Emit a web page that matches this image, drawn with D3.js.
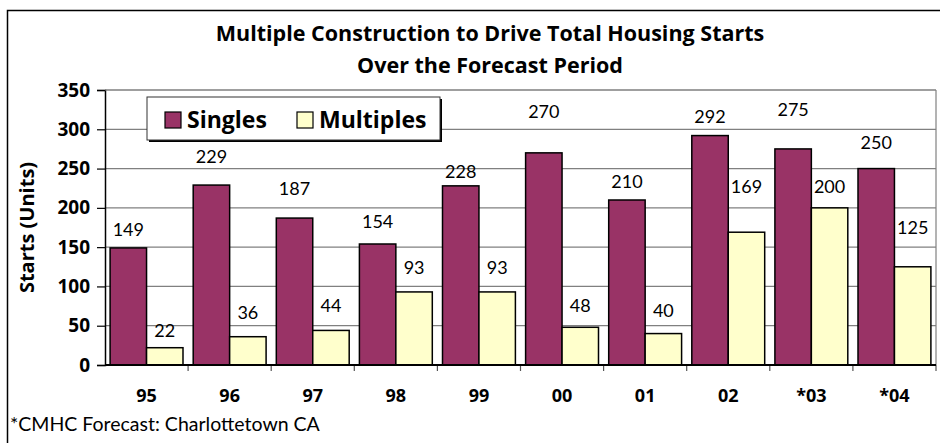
<!DOCTYPE html>
<html>
<head>
<meta charset="utf-8">
<script src="https://cdn.jsdelivr.net/npm/d3@7"></script>
<style>
  body { margin: 0; background: #fff; }
  svg { display: block; font-family: Lato, "Open Sans", sans-serif; }
  .bold { font-family: "Open Sans", sans-serif; font-weight: bold; }
</style>
</head>
<body>
<div id="chart"></div>
<script>
// data
const categories = ["95", "96", "97", "98", "99", "00", "01", "02", "*03", "*04"];
const seriesNames = ["Singles", "Multiples"];
const singles = [149, 229, 187, 154, 228, 270, 210, 292, 275, 250];
const multiples = [22, 36, 44, 93, 93, 48, 40, 169, 200, 125];
const yTicks = [0, 50, 100, 150, 200, 250, 300, 350];

// how far each value label sits above its bar (the labels were hand placed)
const singlesLift = [18, 28, 29, 22, 14, 41, 18, 19, 39, 26];
const multiplesLift = [17, 24, 25, 24, 24, 22, 23, 46, 21, 39];

const colors = { Singles: "#993366", Multiples: "#ffffcc" };

const width = 940, height = 443;
const plot = { left: 105, right: 936, top: 90, bottom: 365 };

let svg = d3.select("#chart").append("svg")
    .attr("width", width)
    .attr("height", height);

// outer chart border (runs off the right and bottom of the picture)
svg.append("rect")
    .attr("x", 7.5).attr("y", 10.5)
    .attr("width", 960).attr("height", 460)
    .attr("fill", "none")
    .attr("stroke", "#000")
    .attr("stroke-width", 1.5);

let x = d3.scaleBand()
    .domain(categories)
    .range([plot.left, plot.right]);

let xSeries = d3.scaleBand()
    .domain(seriesNames)
    .range([0, x.bandwidth()])
    .paddingOuter(0.14);

let y = d3.scaleLinear()
    .domain([0, 350])
    .range([plot.bottom, plot.top]);

// gridlines
svg.append("g")
    .selectAll("line")
    .data(yTicks.filter(t => t > 0))
    .join("line")
    .attr("x1", plot.left).attr("x2", plot.right)
    .attr("y1", d => y(d)).attr("y2", d => y(d))
    .attr("stroke", "#808080")
    .attr("stroke-width", 1.2);

// right edge of plot area
svg.append("line")
    .attr("x1", plot.right).attr("x2", plot.right)
    .attr("y1", plot.top).attr("y2", plot.bottom)
    .attr("stroke", "#808080")
    .attr("stroke-width", 1.2);

// bars
let rows = categories.map((c, i) => ({
    cat: c,
    vals: [
        { name: "Singles", value: singles[i], lift: singlesLift[i] },
        { name: "Multiples", value: multiples[i], lift: multiplesLift[i] }
    ]
}));

let groups = svg.append("g")
    .selectAll("g")
    .data(rows)
    .join("g")
    .attr("transform", d => `translate(${x(d.cat)},0)`);

groups.selectAll("rect")
    .data(d => d.vals)
    .join("rect")
    .attr("x", d => xSeries(d.name))
    .attr("y", d => y(d.value))
    .attr("width", xSeries.bandwidth())
    .attr("height", d => y(0) - y(d.value))
    .attr("fill", d => colors[d.name])
    .attr("stroke", "#000")
    .attr("stroke-width", 1.5);

groups.selectAll("text")
    .data(d => d.vals)
    .join("text")
    .attr("x", d => xSeries(d.name) + xSeries.bandwidth() / 2)
    .attr("y", d => y(d.value) - d.lift)
    .attr("dy", "0.35em")
    .attr("text-anchor", "middle")
    .attr("font-size", 18)
    .attr("fill", "#000")
    .text(d => d.value);

// y axis
let yAxis = svg.append("g")
    .attr("transform", `translate(${plot.left},0)`)
    .call(d3.axisLeft(y).tickValues(yTicks).tickSize(8).tickPadding(7));
yAxis.select(".domain").attr("stroke", "#000").attr("stroke-width", 1.5);
yAxis.selectAll(".tick line").attr("stroke", "#000").attr("stroke-width", 1.2);
yAxis.selectAll(".tick text")
    .attr("class", "bold")
    .attr("font-size", 19)
    .attr("fill", "#000");

// x axis: labels centred in the bands, ticks at band edges
let xAxis = svg.append("g")
    .attr("transform", `translate(0,${plot.bottom})`)
    .call(d3.axisBottom(x).tickSize(0).tickPadding(24));
xAxis.select(".domain").remove();
xAxis.selectAll(".tick text")
    .attr("class", "bold")
    .attr("font-size", 18)
    .attr("fill", "#000");

svg.append("g")
    .selectAll("line")
    .data(categories.slice(1).concat(["end"]))
    .join("line")
    .attr("x1", d => d === "end" ? plot.right : x(d))
    .attr("x2", d => d === "end" ? plot.right : x(d))
    .attr("y1", plot.bottom).attr("y2", plot.bottom + 6)
    .attr("stroke", "#555")
    .attr("stroke-width", 1.2);

svg.append("line")
    .attr("x1", plot.left).attr("x2", plot.right)
    .attr("y1", plot.bottom).attr("y2", plot.bottom)
    .attr("stroke", "#000")
    .attr("stroke-width", 2);

// top edge of plot area
svg.append("line")
    .attr("x1", plot.left).attr("x2", plot.right)
    .attr("y1", plot.top).attr("y2", plot.top)
    .attr("stroke", "#808080")
    .attr("stroke-width", 1.2);

// y axis title
svg.append("text")
    .attr("class", "bold")
    .attr("transform", `translate(27,${(plot.top + plot.bottom) / 2}) rotate(-90)`)
    .attr("text-anchor", "middle")
    .attr("dy", "0.35em")
    .attr("font-size", 20)
    .text("Starts (Units)");

// title
let title = svg.append("text")
    .attr("class", "bold")
    .attr("text-anchor", "middle")
    .attr("font-size", 21.5);
title.append("tspan").attr("x", 490).attr("y", 41)
    .text("Multiple Construction to Drive Total Housing Starts");
title.append("tspan").attr("x", 490).attr("y", 73)
    .text("Over the Forecast Period");

// legend
let legend = svg.append("g").attr("transform", "translate(147,97)");
legend.append("rect")
    .attr("x", 2).attr("y", 2)
    .attr("width", 293).attr("height", 43)
    .attr("fill", "#000");
legend.append("rect")
    .attr("width", 293).attr("height", 43)
    .attr("fill", "#fff")
    .attr("stroke", "#333")
    .attr("stroke-width", 1);

let legendX = [18, 150];
let items = legend.selectAll("g.item")
    .data(seriesNames)
    .join("g")
    .attr("class", "item")
    .attr("transform", (d, i) => `translate(${legendX[i]},15)`);
items.append("rect")
    .attr("width", 16).attr("height", 16)
    .attr("fill", d => colors[d])
    .attr("stroke", "#000")
    .attr("stroke-width", 1.2);
items.append("text")
    .attr("class", "bold")
    .attr("x", 22).attr("y", 16)
    .attr("font-size", 23)
    .text(d => d);

// footnote
svg.append("text")
    .attr("x", 10).attr("y", 431)
    .attr("font-size", 19.5)
    .text("*CMHC Forecast: Charlottetown CA");
</script>
</body>
</html>
